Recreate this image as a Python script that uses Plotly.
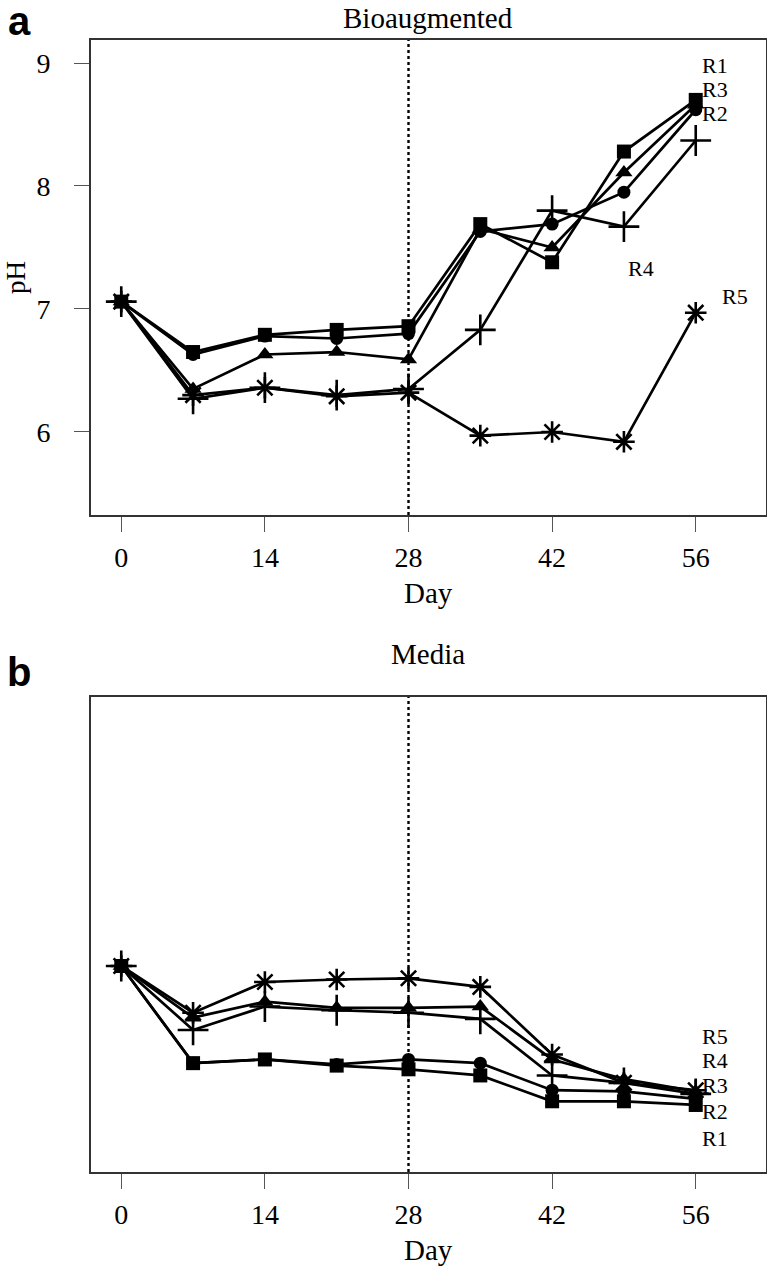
import plotly.graph_objects as go

days = [0, 7, 14, 21, 28, 35, 42, 49, 56]
series = ["R1", "R2", "R3", "R4", "R5"]

bio = {
    "R1": [7.06, 6.65, 6.79, 6.83, 6.86, 7.69, 7.38, 8.28, 8.70],
    "R2": [7.06, 6.63, 6.78, 6.76, 6.80, 7.63, 7.69, 7.95, 8.62],
    "R3": [7.06, 6.35, 6.63, 6.65, 6.59, 7.65, 7.50, 8.11, 8.66],
    "R4": [7.06, 6.27, 6.36, 6.30, 6.35, 6.83, 7.80, 7.67, 8.37],
    "R5": [7.06, 6.30, 6.36, 6.29, 6.32, 5.97, 6.00, 5.92, 6.97],
}
media = {
    "R1": [7.00, 6.21, 6.24, 6.19, 6.16, 6.11, 5.90, 5.90, 5.87],
    "R2": [7.00, 6.21, 6.24, 6.20, 6.24, 6.21, 5.99, 5.98, 5.92],
    "R3": [7.00, 6.58, 6.71, 6.66, 6.66, 6.67, 6.24, 6.08, 5.98],
    "R4": [7.00, 6.48, 6.67, 6.64, 6.62, 6.57, 6.11, 6.05, 5.96],
    "R5": [7.00, 6.62, 6.87, 6.89, 6.90, 6.83, 6.28, 6.05, 5.99],
}

bio_label_pos = {"R1": (57.9, 8.98), "R3": (57.9, 8.785), "R2": (57.9, 8.59),
                 "R4": (50.7, 7.33), "R5": (59.8, 7.10)}
media_label_pos = {"R5": (57.9, 6.43), "R4": (57.9, 6.23), "R3": (57.9, 6.03),
                   "R2": (57.9, 5.82), "R1": (57.9, 5.60)}

x_ticks = [0, 14, 28, 42, 56]
y_ticks = [6, 7, 8, 9]

symbols = {"R1": "square", "R2": "circle", "R3": "triangle-up",
           "R4": "cross-thin-open", "R5": "asterisk-open"}
sizes = {"R1": 14, "R2": 13, "R3": 15, "R4": 22, "R5": 18}

W, H = 767, 1274
serif = "Liberation Serif"

fig = go.Figure()

def add_panel(data, xa, ya):
    for s in series:
        fig.add_trace(go.Scatter(
            x=days, y=data[s], mode="lines+markers", name=s,
            xaxis=xa, yaxis=ya, showlegend=False,
            line=dict(color="black", width=2.7),
            marker=dict(symbol=symbols[s], size=sizes[s], color="black",
                        line=dict(color="black", width=2.6 if s in ("R4", "R5") else 0)),
        ))

add_panel(bio, "x", "y")
add_panel(media, "x2", "y2")

xdom = [91 / W, 766 / W]
top_dom = [1 - 515 / H, 1 - 40 / H]
bot_dom = [1 - 1172 / H, 1 - 697 / H]
xr = [-2.95, 62.85]
yr = [5.325, 9.187]

axis_common = dict(showline=True, mirror=True, linecolor="#333333", linewidth=1.6,
                   showgrid=False, zeroline=False, ticks="outside", ticklen=15,
                   tickcolor="#555555", tickwidth=1.2,
                   tickfont=dict(family=serif, size=28, color="black"))

fig.update_layout(
    width=W, height=H, autosize=False,
    margin=dict(l=0, r=0, t=0, b=0),
    plot_bgcolor="white", paper_bgcolor="white",
    xaxis=dict(domain=xdom, range=xr, tickvals=x_ticks, anchor="y",
               ticklabelstandoff=2, **axis_common),
    yaxis=dict(domain=top_dom, range=yr, tickvals=y_ticks, anchor="x",
               ticklabelstandoff=18, **axis_common),
    xaxis2=dict(domain=xdom, range=xr, tickvals=x_ticks, anchor="y2",
                ticklabelstandoff=2, **axis_common),
    yaxis2=dict(domain=bot_dom, range=yr, anchor="x2",
                **{**axis_common, "ticks": "", "showticklabels": False}),
)

for xref, yref in (("x", "y"), ("x2", "y2")):
    fig.add_shape(type="line", xref=xref, yref=yref + " domain", x0=28, x1=28, y0=0, y1=1,
                  line=dict(color="black", width=2.4, dash="dot"))

ann = []
for s, (lx, ly) in bio_label_pos.items():
    ann.append(dict(x=lx, y=ly, xref="x", yref="y", text=s, showarrow=False,
                    font=dict(family=serif, size=22, color="black")))
for s, (lx, ly) in media_label_pos.items():
    ann.append(dict(x=lx, y=ly, xref="x2", yref="y2", text=s, showarrow=False,
                    font=dict(family=serif, size=22, color="black")))

def pt(px, py):
    return px / W, 1 - py / H

for text, (px, py), size, fam in [
    ("Bioaugmented", (428, 18), 29, serif),
    ("Media", (428, 654), 29, serif),
    ("Day", (428, 593), 29, serif),
    ("Day", (428, 1250), 29, serif),
    ("<b>a</b>", (19, 21), 40, "Liberation Sans"),
    ("<b>b</b>", (19, 672), 40, "Liberation Sans"),
]:
    x, y = pt(px, py)
    ann.append(dict(x=x, y=y, xref="paper", yref="paper", text=text, showarrow=False,
                    xanchor="center", yanchor="middle",
                    font=dict(family=fam, size=size, color="black")))

x, y = pt(16, 278)
ann.append(dict(x=x, y=y, xref="paper", yref="paper", text="pH", showarrow=False,
                textangle=-90, xanchor="center", yanchor="middle",
                font=dict(family=serif, size=27, color="black")))

fig.update_layout(annotations=ann)
fig.write_html("out.html", config={"displayModeBar": False},
               post_script="document.body.style.margin='0px';document.body.style.overflow='hidden';")
